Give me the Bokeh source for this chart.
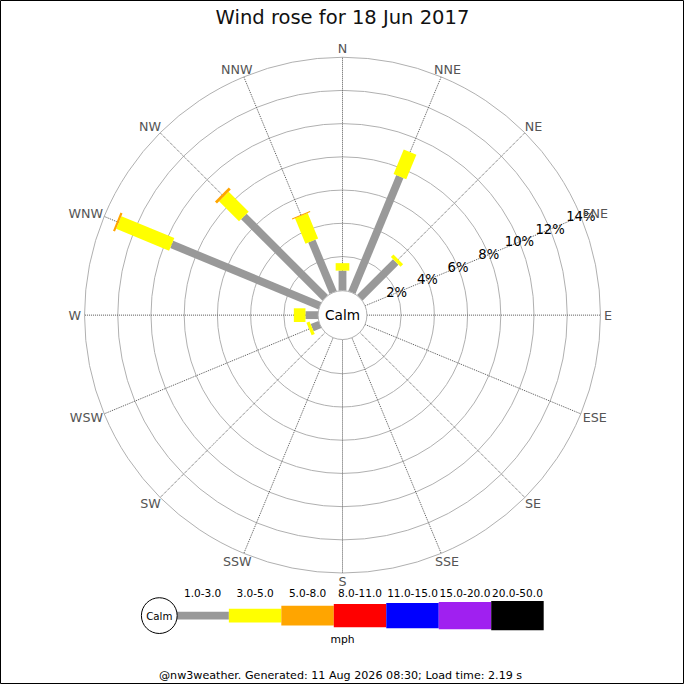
import math
from bokeh.plotting import figure
from bokeh.models import Range1d
from bokeh.embed import file_html
from bokeh.resources import INLINE
from bokeh.core.properties import value

# ---------------- data ----------------
title_text = "Wind rose for 18 Jun 2017"
footer_text = "@nw3weather. Generated: 11 Aug 2026 08:30; Load time: 2.19 s"
unit_text = "mph"
calm_text = "Calm"

directions = ["N", "NNE", "NE", "ENE", "E", "ESE", "SE", "SSE",
              "S", "SSW", "SW", "WSW", "W", "WNW", "NW", "NNW"]
speed_bins = ["1.0-3.0", "3.0-5.0", "5.0-8.0", "8.0-11.0",
              "11.0-15.0", "15.0-20.0", "20.0-50.0"]
bin_colors = ["#999999", "#ffff00", "#ffa500", "#ff0000",
              "#0000ff", "#a020f0", "#000000"]

# percent of time per direction for each speed bin
pct_1_3 = [1.15, 7.5, 3.0, 0, 0, 0, 0, 0, 0, 0, 0, 0.45, 0.7, 9.6, 6.87, 3.3]
pct_3_5 = [0.45, 1.6, 0.22, 0, 0, 0, 0, 0, 0, 0, 0, 0.2, 0.7, 3.45, 1.7, 1.65]
pct_5_8 = [0, 0, 0, 0, 0, 0, 0, 0, 0, 0, 0, 0, 0, 0.13, 0.17, 0.06]
pct_8_11 = [0, 0, 0, 0, 0, 0, 0, 0, 0, 0, 0, 0, 0, 0, 0, 0]
pct_11_15 = [0, 0, 0, 0, 0, 0, 0, 0, 0, 0, 0, 0, 0, 0, 0, 0]
pct_15_20 = [0, 0, 0, 0, 0, 0, 0, 0, 0, 0, 0, 0, 0, 0, 0, 0]
pct_20_50 = [0, 0, 0, 0, 0, 0, 0, 0, 0, 0, 0, 0, 0, 0, 0, 0]
series = [pct_1_3, pct_3_5, pct_5_8, pct_8_11, pct_11_15, pct_15_20, pct_20_50]

ring_pcts = [2, 4, 6, 8, 10, 12, 14]
ring_labels = ["2%", "4%", "6%", "8%", "10%", "12%", "14%"]

# ---------------- layout (units = reference pixels, origin = rose centre) ----------------
CALM_R = 25.0
R0 = 26.0
K = 17.0            # pixels per percent
R_OUT = R0 + K * ring_pcts[-1]
R_LAB = 268.0
bar_widths = [8, 14, 20, 24, 26, 28, 30]
SC = 684.0 / 700.0
FONT = value("DejaVu Sans")


def fs(px):
    return "%.2fpx" % (px * SC)


def rad(p):
    return R0 + K * p


p = figure(width=684, height=684, output_backend="svg", toolbar_location=None,
           x_range=Range1d(-350, 350), y_range=Range1d(-378, 322),
           min_border=0, min_border_left=0, min_border_right=0,
           min_border_top=0, min_border_bottom=0)
p.axis.visible = False
p.grid.visible = False
p.outline_line_color = "black"
p.outline_line_width = 1
p.background_fill_color = "white"
p.border_fill_color = "white"

# rings
p.circle(x=[0] * len(ring_pcts), y=[0] * len(ring_pcts),
         radius=[rad(v) for v in ring_pcts],
         fill_color=None, line_color="#b0b0b0", line_width=1)

# spokes
angles = [math.radians(22.5 * i) for i in range(len(directions))]
p.segment(x0=[CALM_R * math.sin(a) for a in angles], y0=[CALM_R * math.cos(a) for a in angles],
          x1=[R_OUT * math.sin(a) for a in angles], y1=[R_OUT * math.cos(a) for a in angles],
          line_color="#555555", line_width=1, line_dash="1 1")

# bars
for b, vals in enumerate(series):
    xs, ys = [], []
    for i, a in enumerate(angles):
        start = sum(series[k][i] for k in range(b))
        v = vals[i]
        if v <= 0:
            continue
        r1 = CALM_R if start == 0 else rad(start)
        r2 = rad(start + v)
        ux, uy = math.sin(a), math.cos(a)
        vx, vy = math.cos(a), -math.sin(a)
        hw = bar_widths[b] / 2.0
        xs.append([r1 * ux + hw * vx, r2 * ux + hw * vx, r2 * ux - hw * vx, r1 * ux - hw * vx])
        ys.append([r1 * uy + hw * vy, r2 * uy + hw * vy, r2 * uy - hw * vy, r1 * uy - hw * vy])
    if xs:
        p.patches(xs=xs, ys=ys, fill_color=bin_colors[b], line_color=None)

# calm circle
p.circle(x=[0], y=[0], radius=CALM_R, fill_color="white", line_color="#b0b0b0", line_width=1)
p.text(x=[0], y=[0], text=[calm_text], text_font=FONT, text_font_size=fs(14),
       text_align="center", text_baseline="middle", text_color="black")

# percent labels along ENE
la = math.radians(67.5)
p.text(x=[rad(v) * math.sin(la) for v in ring_pcts], y=[rad(v) * math.cos(la) for v in ring_pcts],
       text=ring_labels, text_font=FONT, text_font_size=fs(13.5),
       text_align="center", text_baseline="middle", text_color="black")

# direction labels
cw = {"N": 0.748, "E": 0.632, "S": 0.635, "W": 0.989}
lx, ly = [], []
for d, a in zip(directions, angles):
    w = sum(cw[c] for c in d) * 12.0
    h = 9.0
    lx.append(R_LAB * math.sin(a) + 0.5 * w * math.sin(a))
    ly.append(R_LAB * math.cos(a) + 0.5 * h * math.cos(a))
p.text(x=lx, y=ly, text=directions, text_font=FONT, text_font_size=fs(13),
       text_align="center", text_baseline="middle", text_color="#555555")

# title
p.text(x=[0], y=[305], text=[title_text], text_font=FONT, text_font_size=fs(20),
       text_align="center", text_baseline="middle", text_color="#111111")

# legend
LEG_X0 = 180 - 350
LEG_W = 53.7
LEG_Y = 322 - 629.5
p.quad(left=[LEG_X0 + LEG_W * i for i in range(len(speed_bins))],
       right=[LEG_X0 + LEG_W * (i + 1) for i in range(len(speed_bins))],
       bottom=[LEG_Y - bar_widths[i] / 2.0 for i in range(len(speed_bins))],
       top=[LEG_Y + bar_widths[i] / 2.0 for i in range(len(speed_bins))],
       fill_color=bin_colors, line_color=None)
p.text(x=[LEG_X0 + LEG_W * (i + 0.5) for i in range(len(speed_bins))],
       y=[322 - 606.5] * len(speed_bins), text=speed_bins, text_font=FONT,
       text_font_size=fs(10.8), text_align="center", text_baseline="middle", text_color="black")
p.circle(x=[162.5 - 350], y=[LEG_Y], radius=18.3, fill_color="white", line_color="black", line_width=1)
p.text(x=[162.5 - 350], y=[LEG_Y], text=[calm_text], text_font=FONT, text_font_size=fs(10.5),
       text_align="center", text_baseline="middle", text_color="black")
p.text(x=[0], y=[322 - 654], text=[unit_text], text_font=FONT, text_font_size=fs(11),
       text_align="center", text_baseline="middle", text_color="black")

# footer
p.text(x=[-2], y=[322 - 691], text=[footer_text], text_font=FONT, text_font_size=fs(11.4),
       text_align="center", text_baseline="middle", text_color="black")

open("out.html", "w").write(file_html(p, INLINE))
